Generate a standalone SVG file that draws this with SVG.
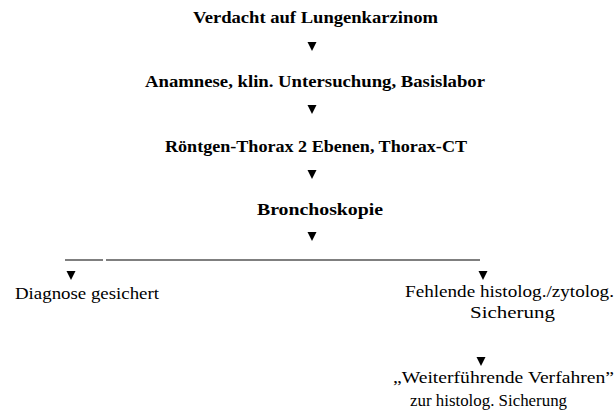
<svg xmlns="http://www.w3.org/2000/svg" width="614" height="416" viewBox="0 0 614 416">
<style>
.b{font-family:"Liberation Serif","Times New Roman",serif;font-weight:bold;font-size:16px;fill:#000;text-anchor:middle}
.r{font-family:"Liberation Serif","Times New Roman",serif;font-size:17px;fill:#000}
.ar{fill:#000}
.ln{stroke:#000;stroke-width:1.2;fill:none}
</style>
<rect width="614" height="416" fill="#fff"/>
<g id="n1"><text class="b" x="315.5" y="23" textLength="245" lengthAdjust="spacingAndGlyphs">Verdacht auf Lungenkarzinom</text></g>
<g id="n2"><text class="b" x="315" y="87" textLength="340" lengthAdjust="spacingAndGlyphs">Anamnese, klin. Untersuchung, Basislabor</text></g>
<g id="n3"><text class="b" x="316" y="152" textLength="302" lengthAdjust="spacingAndGlyphs">Röntgen-Thorax 2 Ebenen, Thorax-CT</text></g>
<g id="n4"><text class="b" x="320" y="215" textLength="126" lengthAdjust="spacingAndGlyphs">Bronchoskopie</text></g>
<g id="n5"><text class="r" x="15" y="299" textLength="144" lengthAdjust="spacingAndGlyphs">Diagnose gesichert</text></g>
<g id="n6"><text class="r" x="405" y="297" textLength="209" lengthAdjust="spacingAndGlyphs">Fehlende histolog./zytolog.</text><text class="r" x="470" y="318" textLength="85" lengthAdjust="spacingAndGlyphs">Sicherung</text></g>
<g id="n7"><text class="r" x="393" y="383" textLength="221" lengthAdjust="spacingAndGlyphs">„Weiterführende Verfahren”</text><text class="r" x="410" y="406" textLength="157" lengthAdjust="spacingAndGlyphs">zur histolog. Sicherung</text></g>
<g id="connectors">
<polygon class="ar" points="307.5,42 316.5,42 312,51"/>
<polygon class="ar" points="307.5,105 316.5,105 312,114"/>
<polygon class="ar" points="307.5,170 316.5,170 312,179"/>
<polygon class="ar" points="307.5,232 316.5,232 312,241"/>
<line class="ln" x1="65" y1="260" x2="103" y2="260"/>
<line class="ln" x1="106" y1="260" x2="480" y2="260"/>
<polygon class="ar" points="66.5,271 75.5,271 71,280"/>
<polygon class="ar" points="478.5,271 487.5,271 483,280"/>
<polygon class="ar" points="476.5,357 485.5,357 481,366"/>
</g>
</svg>
